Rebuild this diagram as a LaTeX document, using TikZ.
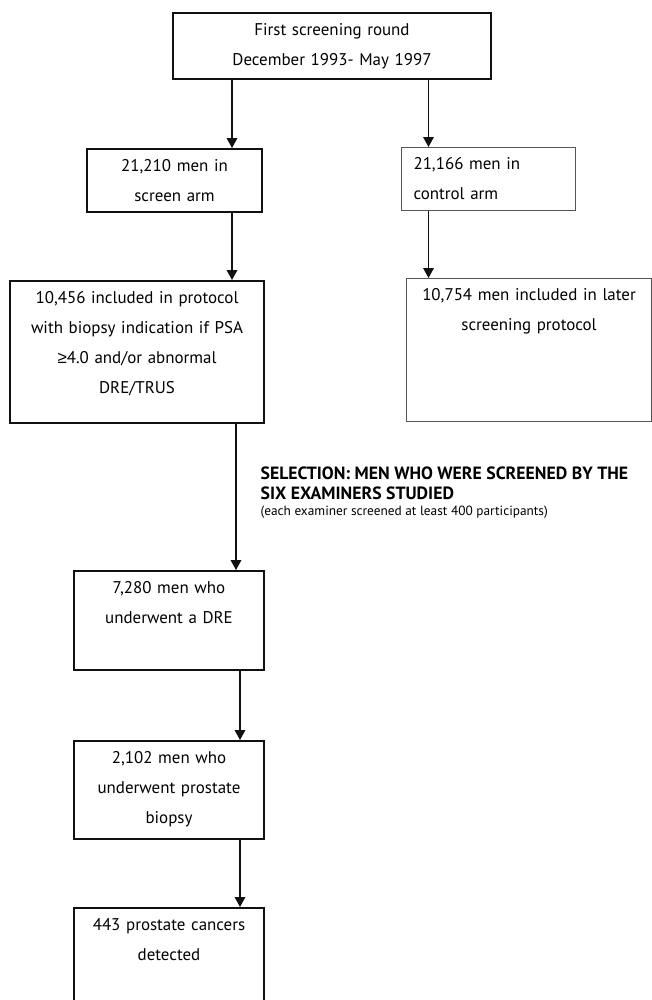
\documentclass[tikz,border=0pt]{standalone}
\usepackage{fontspec}
\setmainfont{PT Sans}
\newfontfamily\symfont{Liberation Sans}
\usetikzlibrary{arrows.meta, positioning, calc}
\definecolor{cblack}{HTML}{111111}
\definecolor{cgrey}{HTML}{555555}
\tikzset{
  every picture/.style={line width=0.9pt},
  box/.style 2 args={draw=cblack, line width=1.5pt, anchor=north west, align=center,
    inner xsep=0pt, inner ysep=7.5pt, text height=9pt, text width=#1, text depth=#2,
    font=\fontsize{12.7}{22.5}\selectfont},
  thin/.style={draw=cgrey, line width=0.8pt},
  arrow/.style={-{Triangle[length=7.5pt, width=8pt]}, draw=cblack, line width=0.9pt},
  note/.style={anchor=north west, align=left, inner sep=0pt, font=\fontsize{13.3}{15}\selectfont\bfseries},
}

\begin{document}
\begin{tikzpicture}[x=0.75pt, y=-0.75pt]
  \useasboundingbox (0,0) rectangle (652,1000);
  % boxes
  \node[box={238.5pt}{25.5pt}] (first) at (172,12) {First screening round\\December 1993- May 1997};
  \node[box={131.25pt}{23.25pt}] (scr) at (86,148) {21,210 men in\\screen arm};
  \node[box={112.5pt}{23.25pt}, thin, align=left, inner xsep=9pt] (ctrl) at (401,147) {21,166 men in\\control arm};
  \node[box={190.5pt}{82.5pt}] (incl) at (9,280) {10,456 included in protocol\\with biopsy indication if PSA\\{\symfont ≥}4.0 and/or abnormal\\DRE/TRUS};
  \node[box={183.75pt}{83.25pt}, thin] (later) at (406,278) {10,754 men included in later\\screening protocol};
  \node[box={142.5pt}{50.25pt}] (dre) at (73,570) {7,280 men who\\underwent a DRE};
  \node[box={142.5pt}{49.5pt}] (bio) at (73,740) {2,102 men who\\underwent prostate\\biopsy};
  \node[box={142.5pt}{49.5pt}] (ca) at (73,907) {443 prostate cancers\\detected};
  % selection
  \node[note] (sel) at (260,466) {SELECTION: MEN WHO WERE SCREENED BY THE\\SIX EXAMINERS STUDIED\\[-3pt]{\fontsize{10}{12}\selectfont\mdseries (each examiner screened at least 400 participants)}};
  % arrows
  \coordinate (xa) at (232,0);
  \coordinate (xb) at (428.5,0);
  \coordinate (xc) at (236,0);
  \coordinate (xd) at (240,0);
  \draw[arrow] (first.south -| xa) -- (scr.north -| xa);
  \draw[arrow] (first.south -| xb) -- (ctrl.north -| xb);
  \draw[arrow] (scr.south -| xa) -- (incl.north -| xa);
  \draw[arrow] (ctrl.south -| xb) -- (later.north -| xb);
  \draw[arrow] (incl.south -| xc) -- (dre.north -| xc);
  \draw[arrow] (dre.south -| xd) -- (bio.north -| xd);
  \draw[arrow] (bio.south -| xd) -- (ca.north -| xd);
\end{tikzpicture}
\end{document}
